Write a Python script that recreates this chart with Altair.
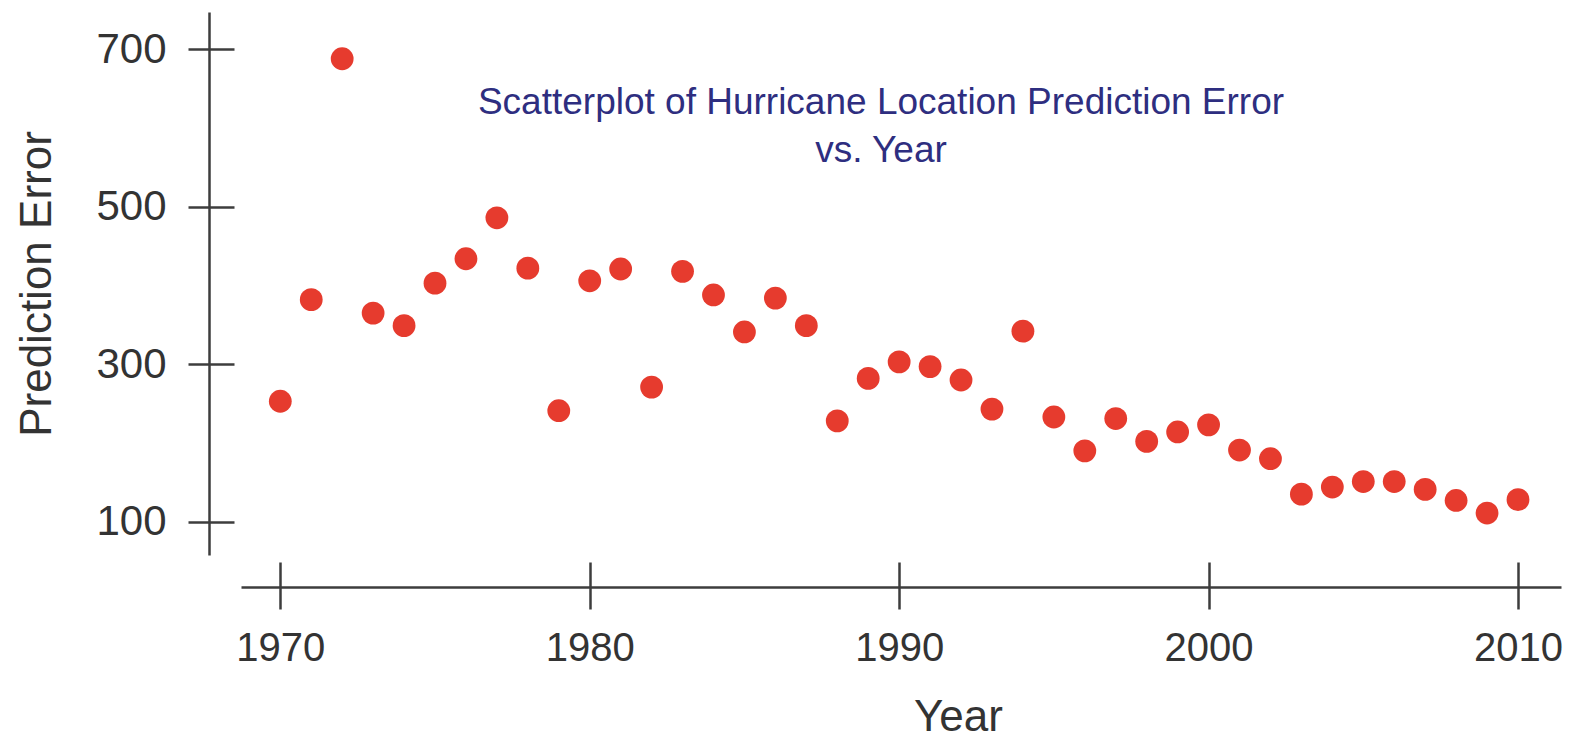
import altair as alt
import pandas as pd

years = list(range(1970, 2011))
errors = [253, 382, 688, 365, 349, 403, 434, 486, 422, 241,
          406, 421, 271, 418, 388, 341, 384, 349, 228, 282,
          303, 297, 280, 243, 342, 233, 190, 231, 202, 214,
          223, 191, 180, 135, 144, 151, 151, 141, 127, 111, 128]
x_ticks = [1970, 1980, 1990, 2000, 2010]
y_ticks = [100, 300, 500, 700]
title_lines = ["Scatterplot of Hurricane Location Prediction Error", "vs. Year"]

df = pd.DataFrame({"Year": years, "Prediction Error": errors})

FONT = "Liberation Sans, Arial, sans-serif"
AX = "#3d3d3d"
W, H = 1320, 543
XOFF, YOFF = 32, 32

xscale = alt.Scale(domain=[1968.73, 2011.39], nice=False, zero=False)
yscale = alt.Scale(domain=[57.7, 747.4], nice=False, zero=False)

pts = alt.Chart(df).mark_circle(size=520, opacity=1, color="#e63b2e").encode(
    x=alt.X("Year:Q", scale=xscale,
            axis=alt.Axis(orient="bottom", values=x_ticks, format="d", offset=XOFF,
                          tickSize=22, tickWidth=2.5, tickColor=AX,
                          domainWidth=2.5, domainColor=AX,
                          labelFontSize=40, labelFont=FONT, labelColor="#333333",
                          labelPadding=19, labelFlush=False,
                          title="Year", titleFontSize=44, titleFont=FONT,
                          titleFontWeight="normal", titleColor="#333333",
                          titleX=717, titlePadding=27, grid=False)),
    y=alt.Y("Prediction Error:Q", scale=yscale,
            axis=alt.Axis(orient="left", values=y_ticks, offset=YOFF,
                          tickSize=21, tickWidth=2.5, tickColor=AX,
                          domainWidth=2.5, domainColor=AX,
                          labelFontSize=42, labelFont=FONT, labelColor="#333333",
                          labelPadding=22, labelFlush=False,
                          title="Prediction Error", titleFontSize=44, titleFont=FONT,
                          titleFontWeight="normal", titleColor="#333333",
                          titlePadding=36, grid=False)),
)

inner = alt.Chart(df).mark_circle(opacity=0).encode(
    x=alt.X("Year:Q", scale=xscale,
            axis=alt.Axis(orient="top", values=x_ticks, offset=-(H + XOFF),
                          tickSize=25, tickWidth=2.5, tickColor=AX,
                          domain=False, labels=False, title=None, grid=False)),
    y=alt.Y("Prediction Error:Q", scale=yscale,
            axis=alt.Axis(orient="right", values=y_ticks, offset=-(W + YOFF),
                          tickSize=25, tickWidth=2.5, tickColor=AX,
                          domain=False, labels=False, title=None, grid=False)),
)

chart = alt.layer(pts, inner).resolve_axis(x="independent", y="independent").properties(
    width=W, height=H,
    padding={"left": 233, "top": 4, "right": 3, "bottom": 183},
    autosize=alt.AutoSizeParams(type="none"),
    background="white",
    title=alt.TitleParams(text=title_lines, anchor="middle", dx=-20, offset=-158,
                          baseline="top", fontSize=37, font=FONT, fontWeight="normal",
                          color="#2e2e80", lineHeight=48),
).configure_view(stroke=None, strokeWidth=0)

chart.save("out.html", embed_options={"renderer": "svg", "actions": False})
